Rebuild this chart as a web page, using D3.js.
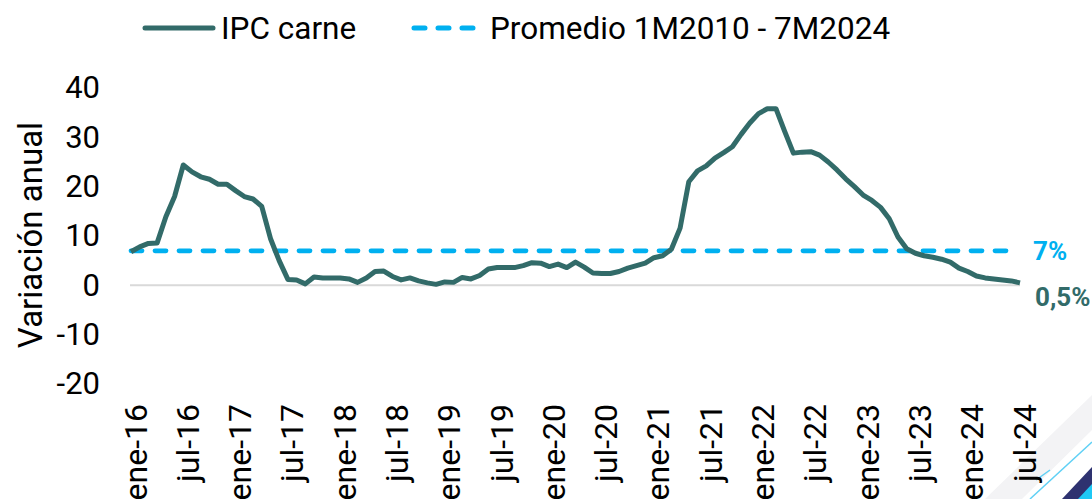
<!DOCTYPE html>
<html>
<head>
<meta charset="utf-8">
<script src="https://cdn.jsdelivr.net/npm/d3@7"></script>
<style>
  html, body { margin: 0; padding: 0; background: #ffffff; }
  svg { display: block; font-family: Roboto, "Noto Sans", Arial, sans-serif; }
</style>
</head>
<body>
<svg id="chart" width="1092" height="499"></svg>
<script>
// ---- Data (monthly, ene-16 .. jul-24) ----
const monthNames = ["ene","feb","mar","abr","may","jun","jul","ago","sep","oct","nov","dic"];
const years = [16,17,18,19,20,21,22,23,24];
const categories = [];
years.forEach(y => monthNames.forEach((m, k) => { if (!(y === 24 && k > 6)) categories.push(m + "-" + y); }));

const ipcCarne = [
  6.8, 7.8, 8.5, 8.6, 13.9, 18.0, 24.4, 23.0, 22.0, 21.5, 20.5, 20.5,
  19.2, 18.0, 17.5, 16.0, 9.5, 5.0, 1.2, 1.1, 0.3, 1.7, 1.5, 1.5,
  1.5, 1.3, 0.6, 1.5, 2.8, 2.9, 1.8, 1.1, 1.5, 0.9, 0.5, 0.2,
  0.7, 0.6, 1.6, 1.3, 2.0, 3.3, 3.6, 3.6, 3.6, 4.0, 4.6, 4.5,
  3.8, 4.3, 3.6, 4.7, 3.7, 2.5, 2.4, 2.4, 2.8, 3.5, 4.0, 4.5,
  5.6, 6.0, 7.3, 11.6, 21.0, 23.2, 24.2, 25.8, 26.9, 28.1, 30.6, 32.9,
  34.8, 35.8, 35.8, 31.2, 26.8, 27.0, 27.1, 26.4, 25.0, 23.4, 21.6, 20.0,
  18.3, 17.2, 15.8, 13.5, 9.8, 7.4, 6.5, 6.0, 5.7, 5.3, 4.7, 3.5,
  2.8, 1.9, 1.5, 1.3, 1.1, 0.9, 0.5
];
const promedio = 7;
const yTicks = [40, 30, 20, 10, 0, -10, -20];
const xTickLabels = categories.filter(c => c.startsWith("ene") || c.startsWith("jul"));
const seriesNames = ["IPC carne", "Promedio 1M2010 - 7M2024"];
const endLabels = ["7%", "0,5%"];

// ---- Layout ----
const svg = d3.select("#chart");
const colLine = "#326b69";
const colAvg = "#00b0f0";

const x = d3.scalePoint().domain(categories).range([131, 1020]);
const y = d3.scaleLinear().domain([-20, 40]).range([384, 88]);

// decoration bottom-right
const deco = svg.append("g");
deco.append("polygon").attr("points", "985,499 1092,395 1092,430 1022,499").attr("fill", "#f3f3f5");
deco.append("line").attr("x1", 1030).attr("y1", 499).attr("x2", 1092).attr("y2", 442)
  .attr("stroke", "#5fd0f5").attr("stroke-width", 1.5);
deco.append("line").attr("x1", 1036).attr("y1", 480).attr("x2", 1050).attr("y2", 470)
  .attr("stroke", "#5fd0f5").attr("stroke-width", 1.5);
deco.append("polygon").attr("points", "1062,499 1092,467 1092,499").attr("fill", "#2e3270");
deco.append("polygon").attr("points", "1078,499 1092,484 1092,499").attr("fill", "#1ec8f5");

// zero line
svg.append("line")
  .attr("x1", x.range()[0] - 1).attr("x2", x.range()[1])
  .attr("y1", y(0)).attr("y2", y(0))
  .attr("stroke", "#d9d9d9").attr("stroke-width", 2);

// y axis (labels only)
const yAxis = d3.axisLeft(y).tickValues(yTicks).tickSize(0).tickPadding(0)
  .tickFormat(d => String(d));
const gy = svg.append("g").attr("transform", "translate(100,0)").call(yAxis);
gy.select(".domain").remove();
gy.selectAll("text").attr("font-size", 31).attr("fill", "#000").attr("font-family", "Roboto");

// y title
svg.append("text")
  .attr("transform", "translate(42,235) rotate(-90)")
  .attr("text-anchor", "middle")
  .attr("font-size", 33).attr("fill", "#000")
  .text("Variación anual");

// x axis (labels only)
const xAxis = d3.axisBottom(x).tickValues(xTickLabels).tickSize(0).tickPadding(0);
const gx = svg.append("g").attr("transform", "translate(0,404)").call(xAxis);
gx.select(".domain").remove();
gx.selectAll("text")
  .attr("font-size", 32).attr("fill", "#000").attr("font-family", "Roboto")
  .attr("text-anchor", "end")
  .attr("transform", "rotate(-90)")
  .attr("x", 0).attr("y", 0).attr("dy", "0.47em");

// average dashed line
svg.append("line")
  .attr("x1", x(categories[0])).attr("x2", x(categories[categories.length - 1]) - 8)
  .attr("y1", y(promedio)).attr("y2", y(promedio))
  .attr("stroke", colAvg).attr("stroke-width", 4.8)
  .attr("stroke-dasharray", "11 13").attr("stroke-linecap", "round");

// main line
const line = d3.line().x((d, i) => x(categories[i])).y(d => y(d));
svg.append("path")
  .datum(ipcCarne)
  .attr("d", line)
  .attr("fill", "none")
  .attr("stroke", colLine).attr("stroke-width", 5)
  .attr("stroke-linejoin", "round");

// end labels
svg.append("text").attr("x", 1033).attr("y", y(promedio)).attr("dy", "0.36em")
  .attr("font-size", 26).attr("font-weight", "bold").attr("fill", colAvg).text(endLabels[0]);
svg.append("text").attr("x", 1035).attr("y", y(0) + 11).attr("dy", "0.36em")
  .attr("font-size", 26).attr("font-weight", "bold").attr("fill", colLine).text(endLabels[1]);

// legend
const lg = svg.append("g");
lg.append("line").attr("x1", 145).attr("x2", 213).attr("y1", 28).attr("y2", 28)
  .attr("stroke", colLine).attr("stroke-width", 5).attr("stroke-linecap", "round");
lg.append("text").attr("x", 221).attr("y", 28).attr("dy", "0.36em")
  .attr("font-size", 31.5).attr("fill", "#000").text(seriesNames[0]);
lg.append("line").attr("x1", 414).attr("x2", 480).attr("y1", 28).attr("y2", 28)
  .attr("stroke", colAvg).attr("stroke-width", 5)
  .attr("stroke-dasharray", "11 13").attr("stroke-linecap", "round");
lg.append("text").attr("x", 490).attr("y", 28).attr("dy", "0.36em")
  .attr("font-size", 31.5).attr("fill", "#000").text(seriesNames[1]);
</script>
</body>
</html>
